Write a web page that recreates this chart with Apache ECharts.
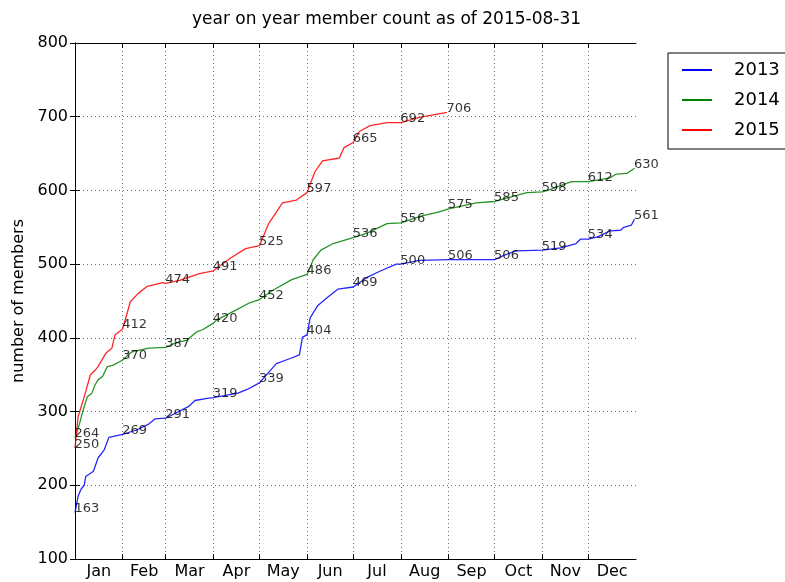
<!DOCTYPE html>
<html>
<head>
<meta charset="utf-8">
<script src="https://cdn.jsdelivr.net/npm/echarts@6/dist/echarts.min.js"></script>
<style>html,body{margin:0;padding:0;background:#fff}#c{width:785px;height:582px}</style>
</head>
<body>
<div id="c"></div>
<script>
// ---- data ----
const monthNames = ['Jan','Feb','Mar','Apr','May','Jun','Jul','Aug','Sep','Oct','Nov','Dec'];
const monthStarts = [0,31,59,90,120,151,181,212,243,273,304,334,365];
const yTicks = [100,200,300,400,500,600,700,800];

const days2013 = [0,2,4,6,7,12,15,19,22,31,40,48,52,59,74,78,86,90,106,112,120,131,140,146,148,151,153,158,165,171,181,190,198,209,212,224,243,273,279,287,304,316,326,329,334,340,348,355,357,362,364];
const vals2013 = [163,185,195,200,212,219,237,248,265,269,275,283,290,291,307,315,318,319,325,330,339,365,372,377,401,404,427,444,456,466,469,482,490,500,500,505,506,506,512,518,519,522,528,534,534,537,545,546,550,553,561];

const days2014 = [0,3,5,8,11,13,15,18,21,25,31,37,48,59,65,73,79,83,90,92,105,113,120,129,141,151,155,160,168,181,190,203,212,225,237,243,261,273,294,304,309,323,334,348,352,359,364];
const vals2014 = [264,284,300,320,325,336,343,348,361,363,370,381,386,387,393,397,408,411,420,424,438,447,452,465,479,486,506,519,528,536,542,555,556,565,571,575,583,585,597,598,601,612,612,617,622,623,630];

const days2015 = [0,2,6,10,13,15,20,24,26,31,36,41,47,57,59,68,81,90,101,111,120,126,135,144,151,156,161,172,175,181,185,192,203,212,224,242];
const vals2015 = [250,293,320,350,356,361,379,386,404,412,449,460,470,475,474,478,487,491,508,521,525,555,583,587,597,625,640,644,658,665,680,688,692,692,699,706];

// annotated values (first of each month, and the last day)
const noteDays = [0,31,59,90,120,151,181,212,243,273,304,334,364];
const noteDays2015 = [0,31,59,90,120,151,181,212,242];
const notes2013 = [163,269,291,319,339,404,469,500,506,506,519,534,561];
const notes2014 = [264,370,387,420,452,486,536,556,575,585,598,612,630];
const notes2015 = [250,412,474,491,525,597,665,692,706];

const years = ['2013','2014','2015'];
const colors = ['#0000ff','#008000','#ff0000'];

// ---- build ----
const zip = (a,b) => a.map((d,i) => [d,b[i]]);
const mids = monthNames.map((m,i) => (monthStarts[i]+monthStarts[i+1])/2);
const FONT = 'DejaVu Sans';

const lineData = [zip(days2013,vals2013), zip(days2014,vals2014), zip(days2015,vals2015)];
const noteData = [zip(noteDays,notes2013), zip(noteDays,notes2014), zip(noteDays2015,notes2015)];

const series = [];
years.forEach((y,i) => {
  series.push({
    name: y, type: 'line', data: lineData[i], symbol: 'none', showSymbol: false,
    lineStyle: {color: colors[i], width: 1.3, opacity: 0.85}, itemStyle: {color: colors[i]},
    silent: true, z: 2
  });
});
years.forEach((y,i) => {
  series.push({
    name: 'notes' + y, type: 'scatter', data: noteData[i], symbol: 'circle', symbolSize: 1,
    itemStyle: {color: 'rgba(0,0,0,0)'}, silent: true, z: 5,
    label: {show: true, position: 'insideBottomLeft', distance: 0, offset: [0, 2],
      formatter: p => String(p.value[1]), color: '#000', fontSize: 13, fontFamily: FONT}
  });
});

const gridLine = {show: true, lineStyle: {color: '#000', width: 1, type: [1,3], opacity: 0.55}};

const option = {
  animation: false,
  backgroundColor: '#fff',
  textStyle: {fontFamily: FONT},
  title: {
    text: 'year on year member count as of 2015-08-31',
    left: 386.5, textAlign: 'center', top: 11, padding: 0,
    textStyle: {fontSize: 17, fontWeight: 'normal', color: '#000', fontFamily: FONT}
  },
  grid: {left: 75, right: 149, top: 43, bottom: 23, containLabel: false},
  legend: {
    data: years, orient: 'vertical', left: 668, top: 53, icon: 'rect',
    padding: [8, 10, 10, 14], itemGap: 12, itemWidth: 30, itemHeight: 2,
    backgroundColor: '#fff', borderColor: '#000', borderWidth: 1, borderRadius: 0,
    textStyle: {fontSize: 18, color: '#000', fontFamily: FONT, padding: [0,0,0,17]},
    selectedMode: false
  },
  xAxis: [
    {
      type: 'value', min: 0, max: 365, position: 'bottom',
      axisLine: {show: true, lineStyle: {color: '#000', width: 1}},
      axisTick: {show: true, inside: true, length: 5, customValues: monthStarts.slice(1,12), lineStyle: {color: '#000'}},
      axisLabel: {customValues: mids, margin: 5, fontSize: 16, color: '#000', fontFamily: FONT,
        formatter: v => { let k = 0, b = 1e9; mids.forEach((m,i)=>{ if (Math.abs(m-v) < b) { b = Math.abs(m-v); k = i; } }); return monthNames[k]; }},
      splitLine: gridLine
    },
    {
      type: 'value', min: 0, max: 365, position: 'top',
      axisLine: {show: true, lineStyle: {color: '#000', width: 1}},
      axisTick: {show: true, inside: true, length: 5, customValues: monthStarts.slice(1,12), lineStyle: {color: '#000'}},
      axisLabel: {show: false}, splitLine: {show: false}
    }
  ],
  yAxis: [
    {
      type: 'value', min: yTicks[0], max: yTicks[yTicks.length-1], interval: 100, position: 'left',
      name: 'number of members', nameLocation: 'middle', nameGap: 48,
      nameTextStyle: {fontSize: 16, color: '#000', fontFamily: FONT},
      axisLine: {show: true, lineStyle: {color: '#000', width: 1}},
      axisTick: {show: true, inside: true, length: 5, lineStyle: {color: '#000'}},
      axisLabel: {margin: 7, fontSize: 16, color: '#000', fontFamily: FONT},
      splitLine: gridLine
    },
    {
      type: 'value', min: yTicks[0], max: yTicks[yTicks.length-1], interval: 100, position: 'right',
      axisLine: {show: true, lineStyle: {color: '#000', width: 1}},
      axisTick: {show: true, inside: true, length: 5, lineStyle: {color: '#000'}},
      axisLabel: {show: false}, splitLine: {show: false}
    }
  ],
  series: series
};

const chart = echarts.init(document.getElementById('c'), null, {renderer: 'canvas'});
chart.setOption(option);
</script>
</body>
</html>
